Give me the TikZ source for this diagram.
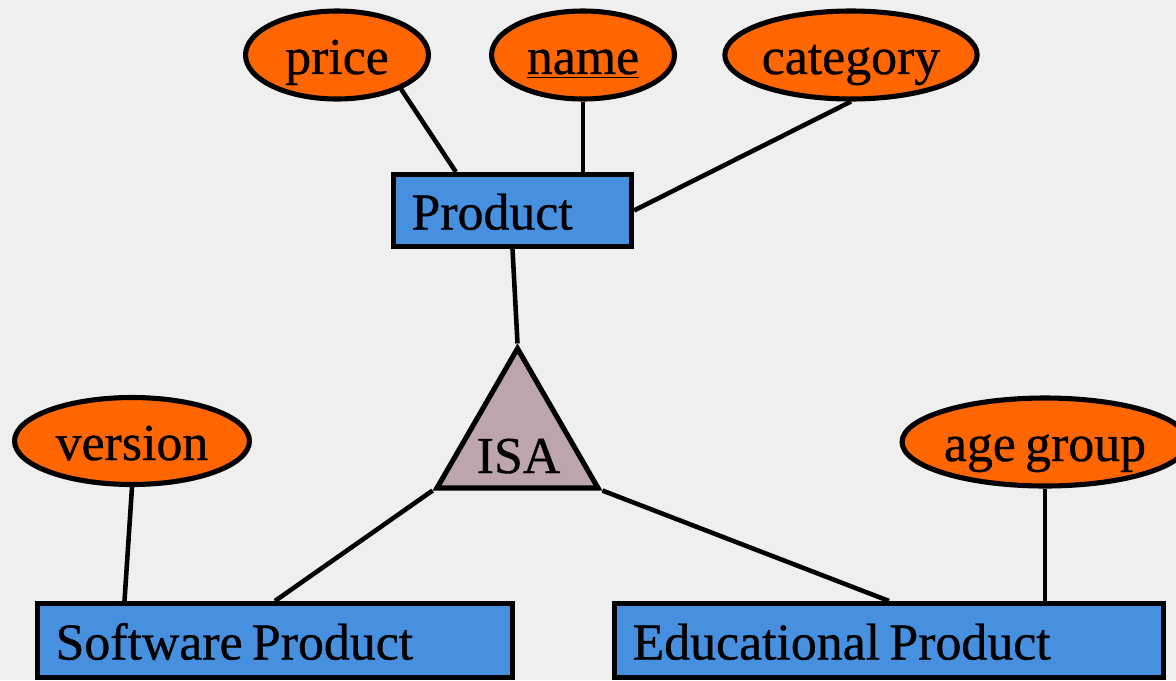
\documentclass[tikz,border=0pt]{standalone}
\usepackage{fontspec}
\setmainfont{Liberation Serif}
\newfontfamily\erfam{Liberation Serif}[RawFeature={embolden=0.7}]
\usetikzlibrary{shapes.geometric,calc}
\definecolor{bgcol}{HTML}{EFEFEF}
\definecolor{attrcol}{HTML}{FF6600}
\definecolor{entcol}{HTML}{4790DF}
\definecolor{isacol}{HTML}{BCA5AC}
% large serif face
\newcommand\erfont{\erfam\fontsize{29.5pt}{34pt}\selectfont}
\tikzset{
  txt/.style={font=\erfont, text height=0.76cm, text depth=0pt,
    execute at begin node={\spaceskip=0.18em plus 0.05em\relax}},
  attr/.style={txt, ellipse, draw=black, line width=2.9pt, fill=attrcol,
    inner sep=0pt, minimum height=1.76cm},
  entity/.style={txt, rectangle, draw=black, line width=2.9pt, fill=entcol,
    inner ysep=0pt, inner xsep=0.36cm, align=left},
  isabox/.style={regular polygon, regular polygon sides=3, draw=black,
    line width=2.9pt, fill=isacol, inner sep=0pt, minimum size=3.72cm},
  link/.style={draw=black, line width=2.6pt}
}
\begin{document}
\begin{tikzpicture}[x=0.02cm, y=-0.02cm]
  \useasboundingbox (0,0) rectangle (1176,680);
  \fill[bgcol] (0,0) rectangle (1176,680);
  \clip (0,0) rectangle (1176,680);

  % attributes of Product
  \node[attr, minimum width=3.66cm] (price) at (337,55) {price};
  \node[attr, minimum width=3.66cm] (name) at (583,55) {\underline{name}};
  \node[attr, minimum width=4.78cm] (category) at (851,55) {category};

  % entities
  \node[entity, minimum height=1.44cm, text width=4.04cm] (product) at (512.5,210.5) {Product};
  \node[entity, minimum height=1.48cm, text width=8.78cm] (software) at (275,640.5) {Software Product};
  \node[entity, minimum height=1.48cm, text width=10.26cm] (educational) at (889,640.5) {Educational Product};

  % attributes of the subclasses
  \node[attr, minimum width=4.7cm, minimum height=1.74cm] (version) at (132,441) {version};
  \node[attr, minimum width=5.6cm] (agegroup) at (1045,442) {age group};

  % ISA triangle
  \node[isabox] (isa) at (517.5,441.5) {};
  \node[txt, anchor=base] (isalabel) at (518.5,473) {ISA};

  % connectors
  \draw[link] (price.-28) -- ($(product.north west)!0.267!(product.north east)$);
  \draw[link] (name.south) -- (name.south |- product.north);
  \draw[link] (category.south) -- (product.east);
  \draw[link] (product.south) -- (isa.corner 1);
  \draw[link] (isa.corner 2) -- (software.north);
  \draw[link] (isa.corner 3) -- (educational.north);
  \draw[link] (version.south) -- ($(software.north west)+(89.5,0)$);
  \draw[link] (agegroup.south) -- (agegroup.south |- educational.north);
\end{tikzpicture}
\end{document}
